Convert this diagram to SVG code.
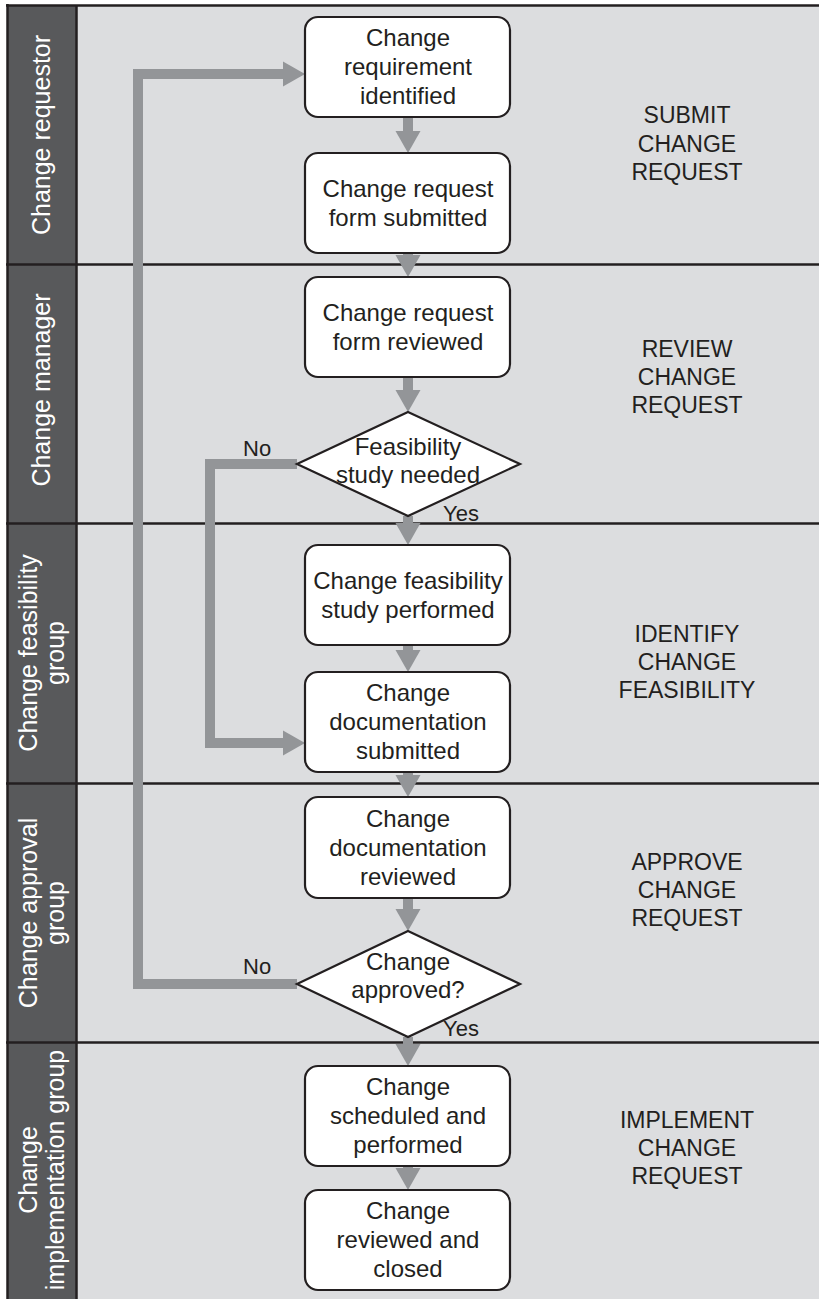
<svg xmlns="http://www.w3.org/2000/svg" width="819" height="1299" viewBox="0 0 819 1299">
<style>
.node rect,.node polygon{fill:#fff;stroke:#231f20;stroke-width:2.2}
.nt{font-family:"Liberation Sans",Arial,sans-serif;font-size:24px;fill:#231f20;text-anchor:middle}
.st{font-family:"Liberation Sans",Arial,sans-serif;font-size:23px;fill:#231f20;text-anchor:middle}
.lt{font-family:"Liberation Sans",Arial,sans-serif;font-size:25px;fill:#fff;text-anchor:middle}
.yn{font-family:"Liberation Sans",Arial,sans-serif;font-size:22px;fill:#231f20}
.conn path{fill:none;stroke:#939598;stroke-width:10;stroke-linejoin:miter}
.div{stroke:#231f20;stroke-width:2.5}
</style>
<defs>
<marker id="ah" markerUnits="userSpaceOnUse" markerWidth="24" markerHeight="26" refX="10" refY="13" orient="auto">
<path d="M0,0.5 L22,13 L0,25.5 z" fill="#939598"/>
</marker>
</defs>
<g id="background">
<rect x="7" y="5" width="812" height="1294" fill="#dcdddf"/>
<rect x="7" y="5" width="70" height="1294" fill="#58595b"/>
<line class="div" x1="7.5" y1="4" x2="7.5" y2="1299"/>
<line class="div" x1="76.5" y1="5" x2="76.5" y2="1299"/>
<line class="div" x1="6" y1="5.5" x2="819" y2="5.5"/>
<line class="div" x1="6" y1="264.5" x2="819" y2="264.5"/>
<line class="div" x1="6" y1="523.5" x2="819" y2="523.5"/>
<line class="div" x1="6" y1="783.5" x2="819" y2="783.5"/>
<line class="div" x1="6" y1="1042.5" x2="819" y2="1042.5"/>
</g>
<g id="lanes">
<text class="lt" transform="translate(50,135) rotate(-90)">Change requestor</text>
<text class="lt" transform="translate(50,390) rotate(-90)">Change manager</text>
<text class="lt" transform="translate(37,653) rotate(-90)">Change feasibility</text>
<text class="lt" transform="translate(64,653) rotate(-90)">group</text>
<text class="lt" transform="translate(37,913) rotate(-90)">Change approval</text>
<text class="lt" transform="translate(64,913) rotate(-90)">group</text>
<text class="lt" transform="translate(37,1170) rotate(-90)">Change</text>
<text class="lt" transform="translate(64,1170) rotate(-90)">implementation group</text>
</g>
<g id="stages">
<text class="st" x="687" y="123">SUBMIT</text>
<text class="st" x="687" y="152">CHANGE</text>
<text class="st" x="687" y="180">REQUEST</text>
<text class="st" x="687" y="357">REVIEW</text>
<text class="st" x="687" y="385">CHANGE</text>
<text class="st" x="687" y="413">REQUEST</text>
<text class="st" x="687" y="642">IDENTIFY</text>
<text class="st" x="687" y="670">CHANGE</text>
<text class="st" x="687" y="698">FEASIBILITY</text>
<text class="st" x="687" y="870">APPROVE</text>
<text class="st" x="687" y="898">CHANGE</text>
<text class="st" x="687" y="926">REQUEST</text>
<text class="st" x="687" y="1128">IMPLEMENT</text>
<text class="st" x="687" y="1156">CHANGE</text>
<text class="st" x="687" y="1184">REQUEST</text>
</g>
<g id="connectors" class="conn">
<path d="M408,117 V141" marker-end="url(#ah)"/>
<path d="M408,253 V265" marker-end="url(#ah)"/>
<path d="M408,377 V400" marker-end="url(#ah)"/>
<path d="M408,516 V533" marker-end="url(#ah)"/>
<path d="M408,645 V660" marker-end="url(#ah)"/>
<path d="M408,772 V785" marker-end="url(#ah)"/>
<path d="M408,898 V919" marker-end="url(#ah)"/>
<path d="M408,1037 V1054" marker-end="url(#ah)"/>
<path d="M408,1166 V1178" marker-end="url(#ah)"/>
<path d="M297,464 H210 V743 H293" marker-end="url(#ah)"/>
<path d="M297,984 H138 V74 H293" marker-end="url(#ah)"/>
<text class="yn" x="243" y="456">No</text>
<text class="yn" x="443" y="521">Yes</text>
<text class="yn" x="243" y="974">No</text>
<text class="yn" x="443" y="1036">Yes</text>
</g>
<g id="n1" class="node"><rect x="305" y="17" width="205" height="100" rx="13"/>
<text class="nt" x="408" y="46">Change</text><text class="nt" x="408" y="75">requirement</text><text class="nt" x="408" y="104">identified</text></g>
<g id="n2" class="node"><rect x="305" y="153" width="205" height="100" rx="13"/>
<text class="nt" x="408" y="197">Change request</text><text class="nt" x="408" y="226">form submitted</text></g>
<g id="n3" class="node"><rect x="305" y="277" width="205" height="100" rx="13"/>
<text class="nt" x="408" y="321">Change request</text><text class="nt" x="408" y="350">form reviewed</text></g>
<g id="d1" class="node"><polygon points="408,412 520,464 408,516 297,464"/>
<text class="nt" x="408" y="455">Feasibility</text><text class="nt" x="408" y="483">study needed</text></g>
<g id="n4" class="node"><rect x="305" y="545" width="205" height="100" rx="13"/>
<text class="nt" x="408" y="589">Change feasibility</text><text class="nt" x="408" y="618">study performed</text></g>
<g id="n5" class="node"><rect x="305" y="672" width="205" height="100" rx="13"/>
<text class="nt" x="408" y="701">Change</text><text class="nt" x="408" y="730">documentation</text><text class="nt" x="408" y="759">submitted</text></g>
<g id="n6" class="node"><rect x="305" y="797" width="205" height="101" rx="13"/>
<text class="nt" x="408" y="827">Change</text><text class="nt" x="408" y="856">documentation</text><text class="nt" x="408" y="885">reviewed</text></g>
<g id="d2" class="node"><polygon points="408,931 520,984 408,1037 297,984"/>
<text class="nt" x="408" y="970">Change</text><text class="nt" x="408" y="998">approved?</text></g>
<g id="n7" class="node"><rect x="305" y="1066" width="205" height="100" rx="13"/>
<text class="nt" x="408" y="1095">Change</text><text class="nt" x="408" y="1124">scheduled and</text><text class="nt" x="408" y="1153">performed</text></g>
<g id="n8" class="node"><rect x="305" y="1190" width="205" height="100" rx="13"/>
<text class="nt" x="408" y="1219">Change</text><text class="nt" x="408" y="1248">reviewed and</text><text class="nt" x="408" y="1277">closed</text></g>
</svg>
